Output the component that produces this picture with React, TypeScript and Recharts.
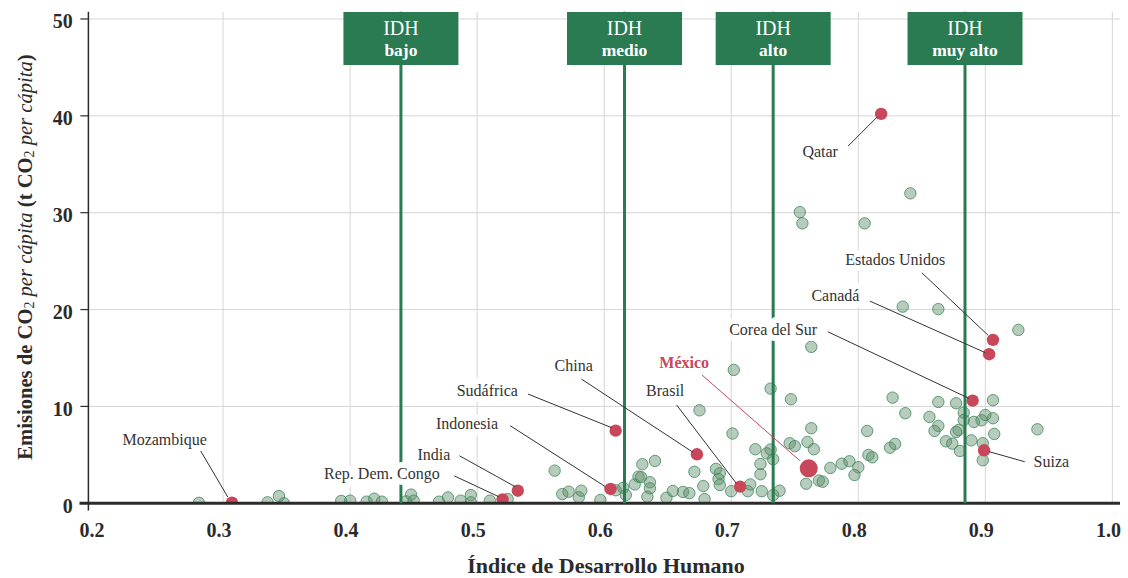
import React from 'react';
import { ScatterChart, Scatter, XAxis, YAxis, CartesianGrid, ReferenceLine, ReferenceDot } from 'recharts';

// Resto de países: IDH y emisiones (t CO2 per cápita)
const otherIdh = [
  0.281, 0.335, 0.344, 0.348, 0.393, 0.4, 0.413, 0.419, 0.425, 0.444, 0.448, 0.45, 0.47, 0.477, 0.487, 0.495, 0.495,
  0.51, 0.524, 0.561, 0.567, 0.572, 0.58, 0.582, 0.597, 0.609, 0.615, 0.617, 0.624, 0.627, 0.629, 0.63, 0.636, 0.636,
  0.634, 0.64, 0.649, 0.654, 0.662, 0.667, 0.671, 0.675, 0.678, 0.679, 0.688, 0.691, 0.69, 0.691, 0.701, 0.702, 0.7,
  0.713, 0.715, 0.719, 0.723, 0.723, 0.724, 0.728, 0.731, 0.731, 0.733, 0.733, 0.738, 0.747, 0.746, 0.75, 0.76, 0.763,
  0.763, 0.765, 0.759, 0.769, 0.772, 0.778, 0.787, 0.793, 0.8, 0.797, 0.808, 0.811, 0.807, 0.825, 0.829, 0.827, 0.837,
  0.835, 0.863, 0.926, 0.898, 0.941, 0.863, 0.877, 0.856, 0.863, 0.86, 0.883, 0.883, 0.877, 0.879, 0.869, 0.874, 0.88,
  0.889, 0.891, 0.897, 0.9, 0.906, 0.906, 0.907, 0.898, 0.841, 0.754, 0.756, 0.805,
];
const otherCo2 = [
  0.05, 0.1, 0.75, 0.0, 0.24, 0.27, 0.17, 0.47, 0.17, 0.2, 0.9, 0.27, 0.17, 0.6, 0.27, 0.85, 0.1,
  0.27, 0.44, 3.37, 0.95, 1.2, 0.62, 1.3, 0.34, 1.35, 1.6, 0.86, 1.95, 2.75, 2.7, 4.03, 2.17, 1.55,
  0.68, 4.37, 0.58, 1.27, 1.17, 1.05, 3.25, 9.6, 1.78, 0.44, 3.55, 3.1, 2.5, 1.89, 7.2, 13.77, 1.25,
  1.25, 1.95, 5.58, 3.0, 4.06, 1.25, 5.16, 5.55, 11.84, 4.55, 0.85, 1.3, 10.74, 6.2, 5.9, 6.33, 7.75,
  16.15, 5.58, 2.02, 2.35, 2.23, 3.65, 4.09, 4.34, 3.72, 2.92, 4.99, 4.75, 7.47, 5.74, 6.13, 10.91, 9.3,
  20.3, 20.05, 17.9, 4.44, 7.64, 10.46, 10.33, 8.92, 7.99, 7.47, 9.36, 8.6, 7.37, 7.57, 6.4, 6.16, 5.4,
  6.5, 8.4, 8.57, 9.12, 10.64, 8.78, 7.16, 6.2, 32.0, 30.06, 28.9, 28.9,
];

// Países destacados
const countryNames = ['Mozambique', 'Rep. Dem. Congo', 'India', 'Indonesia', 'Sudáfrica', 'China', 'Brasil', 'Corea del Sur', 'Canadá', 'Estados Unidos', 'Qatar', 'Suiza'];
const countryIdh = [0.307, 0.52, 0.532, 0.605, 0.609, 0.673, 0.707, 0.89, 0.903, 0.906, 0.818, 0.899];
const countryCo2 = [0.06, 0.41, 1.3, 1.48, 7.5, 5.06, 1.72, 10.6, 15.39, 16.87, 40.2, 5.47];

const mexicoIdh = 0.761;
const mexicoCo2 = 3.61;

// Grupos de IDH
const groupNames = ['bajo', 'medio', 'alto', 'muy alto'];
const groupIdh = [0.44, 0.616, 0.733, 0.884];

const xTicks = [0.2, 0.3, 0.4, 0.5, 0.6, 0.7, 0.8, 0.9, 1.0];
const xGrid = [0.3, 0.4, 0.5, 0.6, 0.7, 0.8, 0.9, 1.0];
const yTicks = [0, 10, 20, 30, 40, 50];

// Anotaciones (en unidades de los ejes)
const noteNames = ['Mozambique', 'Rep. Dem. Congo', 'India', 'Indonesia', 'Sudáfrica', 'China', 'Brasil', 'México', 'Corea del Sur', 'Canadá', 'Estados Unidos', 'Qatar', 'Suiza'];
const noteIdh = [0.254, 0.425, 0.466, 0.492, 0.508, 0.576, 0.648, 0.663, 0.733, 0.782, 0.829, 0.77, 0.952];
const noteCo2 = [6.54, 3.1, 4.99, 8.19, 11.6, 14.2, 11.6, 14.56, 17.9, 21.5, 25.19, 36.3, 4.29];
const leaderFrom = [
  [0.2824, 5.4], [0.482, 2.83], [0.486, 4.91], [0.526, 8.01], [0.54, 11.28], [0.582, 12.83], [0.657, 10.15],
  [0.677, 13.24], [0.776, 17.71], [0.809, 20.88], [0.85, 23.8], [0.792, 36.88], [0.903, 5.33],
];
const leaderTo = [
  [0.3037, 0.65], [0.517, 0.68], [0.53, 1.71], [0.601, 1.71], [0.606, 7.8], [0.67, 5.26], [0.704, 2.06],
  [0.754, 4.4], [0.887, 10.84], [0.9, 15.55], [0.902, 17.37], [0.815, 39.9], [0.931, 4.29],
];

const GREEN = '#2a7a52';
const RED = '#c8475a';
const INK = '#2b2b2b';
const FONT = '"Liberation Serif", "DejaVu Serif", serif';

const others = otherIdh.map((idh, i) => ({ idh, co2: otherCo2[i] }));
const countries = countryIdh.map((idh, i) => ({ idh, co2: countryCo2[i], name: countryNames[i] }));
const mexico = [{ idh: mexicoIdh, co2: mexicoCo2 }];

const XTick = ({ x, y, payload }: any) => (
  <text x={x - 4} y={y + 34} textAnchor="middle" fontSize={20} fontWeight="bold" fill={INK} fontFamily={FONT}>
    {payload.value.toFixed(1)}
  </text>
);

const YTick = ({ x, y, payload }: any) => (
  <text x={x} y={y + 2.5} textAnchor="end" dominantBaseline="central" fontSize={20} fontWeight="bold" fill={INK} fontFamily={FONT}>
    {payload.value}
  </text>
);

const YTitle = () => (
  <text
    transform="translate(25,257) rotate(-90)"
    textAnchor="middle"
    dominantBaseline="central"
    fontSize={20.6}
    fill={INK}
    fontFamily={FONT}
  >
    <tspan fontWeight="bold">Emisiones de CO</tspan>
    <tspan fontSize={14} dy={4}>2</tspan>
    <tspan dy={-4} fontStyle="italic"> per cápita </tspan>
    <tspan fontWeight="bold">(t CO</tspan>
    <tspan fontSize={14} dy={4}>2</tspan>
    <tspan dy={-4} fontStyle="italic"> per cápita</tspan>
    <tspan fontWeight="bold">)</tspan>
  </text>
);

const XTitle = () => (
  <text x={606} y={573} textAnchor="middle" fontSize={22} fontWeight="bold" fill={INK} fontFamily={FONT}>
    Índice de Desarrollo Humano
  </text>
);

export default function App() {
  return (
    <div style={{ position: 'absolute', left: 0, top: 0, background: '#fff', fontFamily: FONT }}>
      <ScatterChart width={1128} height={578} margin={{ top: 11.7, right: 8, bottom: 0, left: 0 }}>
        <CartesianGrid stroke="#d6d6d6" strokeWidth={1} verticalValues={xGrid} horizontalValues={yTicks} />

        <XAxis
          type="number"
          dataKey="idh"
          domain={[0.194, 1.006]}
          ticks={xTicks}
          height={74.7}
          axisLine={false}
          tickLine={false}
          tickSize={0}
          tickMargin={0}
          tick={<XTick />}
          label={{ content: () => <XTitle /> }}
          allowDataOverflow
        />
        <YAxis
          type="number"
          dataKey="co2"
          domain={[0, 50.75]}
          ticks={yTicks}
          width={88.4}
          axisLine={{ stroke: INK, strokeWidth: 1.5 }}
          tickLine={{ stroke: INK, strokeWidth: 1.2 }}
          tickSize={8}
          tickMargin={7.7}
          tick={<YTick />}
          label={{ content: () => <YTitle /> }}
          allowDataOverflow
        />

        <Scatter
          data={others}
          isAnimationActive={false}
          zIndex={100}
          shape={(p: any) => (
            <circle cx={p.cx} cy={p.cy} r={5.7} fill="#5f8f6a" fillOpacity={0.45} stroke="#3f8a5e" strokeOpacity={0.8} strokeWidth={1} />
          )}
        />
        <Scatter
          data={countries}
          isAnimationActive={false}
          zIndex={110}
          shape={(p: any) => <circle cx={p.cx} cy={p.cy} r={6.2} fill={RED} />}
        />
        <Scatter
          data={mexico}
          isAnimationActive={false}
          zIndex={120}
          shape={(p: any) => <circle cx={p.cx} cy={p.cy} r={9} fill={RED} />}
        />

        {/* eje x grueso y prolongación del eje y */}
        <ReferenceLine
          segment={[{ x: 0.187, y: 0 }, { x: 1.006, y: 0 }]}
          stroke={INK}
          strokeWidth={3}
          ifOverflow="visible"
          zIndex={150}
        />
        <ReferenceLine
          segment={[{ x: 0.194, y: -0.75 }, { x: 0.194, y: 0 }]}
          stroke={INK}
          strokeWidth={1.5}
          ifOverflow="visible"
          zIndex={150}
        />

        {groupIdh.map((v, i) => (
          <ReferenceLine key={'g' + i} x={v} stroke={GREEN} strokeWidth={3} zIndex={200} />
        ))}

        {noteNames.map((name, i) => (
          <ReferenceDot
            key={'n' + i}
            x={noteIdh[i]}
            y={noteCo2[i]}
            r={0}
            zIndex={300}
            shape={(p: any) => (
              <text
                x={p.cx}
                y={p.cy}
                textAnchor="middle"
                dominantBaseline="central"
                fontSize={16}
                fontWeight={name === 'México' ? 'bold' : 'normal'}
                fill={name === 'México' ? RED : '#333'}
                stroke="#fff"
                strokeWidth={12}
                strokeLinejoin="round"
                paintOrder="stroke"
                fontFamily={FONT}
              >
                {name}
              </text>
            )}
          />
        ))}

        {leaderFrom.map((a, i) => (
          <ReferenceLine
            key={'l' + i}
            segment={[{ x: a[0], y: a[1] }, { x: leaderTo[i][0], y: leaderTo[i][1] }]}
            stroke={noteNames[i] === 'México' ? RED : '#333'}
            strokeWidth={1}
            zIndex={400}
          />
        ))}

        {groupNames.map((name, i) => (
          <ReferenceDot
            key={'b' + i}
            x={groupIdh[i]}
            y={50.75}
            r={0}
            zIndex={500}
            shape={(p: any) => (
              <g>
                <rect x={p.cx - 57.5} y={p.cy + 0.3} width={115} height={53} fill={GREEN} />
                <text x={p.cx} y={p.cy + 23.3} textAnchor="middle" fontSize={20} fill="#fff" fontFamily={FONT}>
                  IDH
                </text>
                <text x={p.cx} y={p.cy + 44.3} textAnchor="middle" fontSize={17.5} fontWeight="bold" fill="#fff" fontFamily={FONT}>
                  {name}
                </text>
              </g>
            )}
          />
        ))}
      </ScatterChart>
    </div>
  );
}
